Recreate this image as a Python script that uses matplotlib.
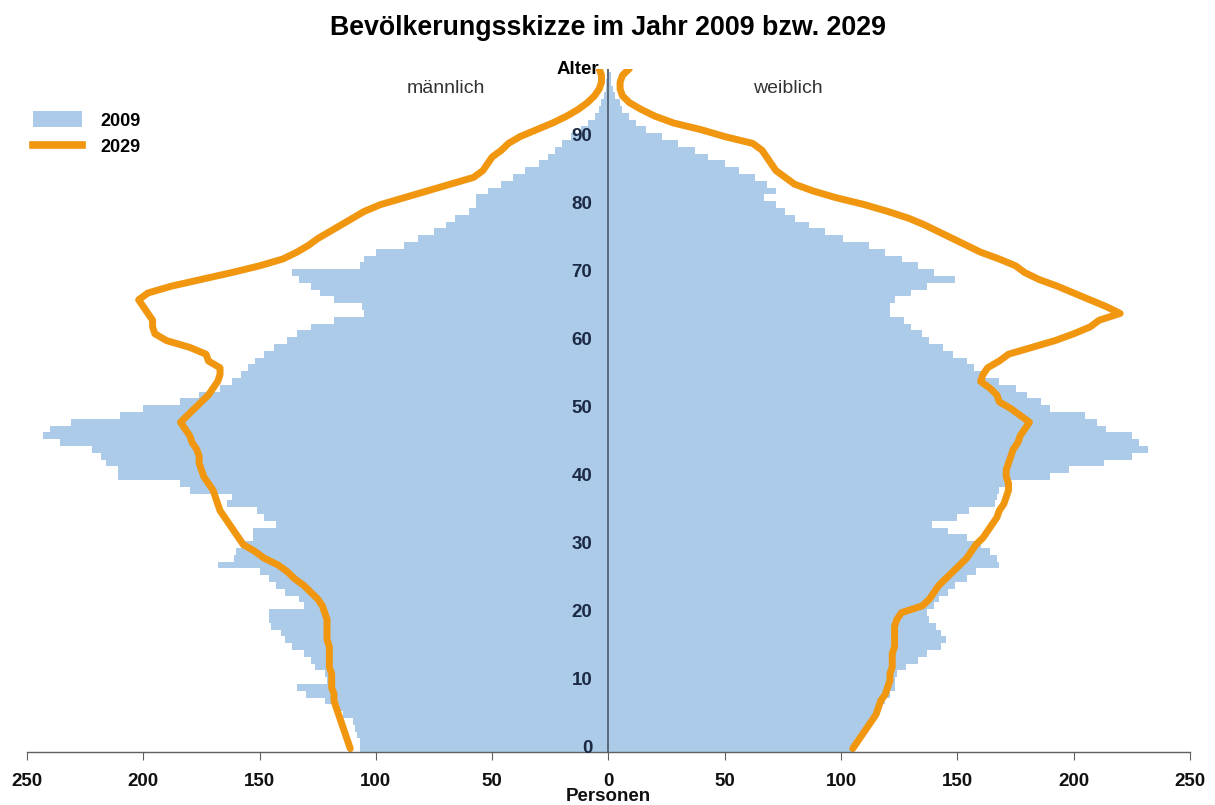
import numpy as np
import matplotlib
matplotlib.use("Agg")
import matplotlib.pyplot as plt
from matplotlib.patches import Patch
from matplotlib.lines import Line2D

plt.rcParams['font.family'] = ['Liberation Sans', 'DejaVu Sans']

# ages 0..99 for the 2009 bars, 0..100 for the 2029 lines
ages_2009 = list(range(100))
ages_2029 = list(range(101))

male_2009 = [107, 107, 108, 109, 110, 114, 116, 122, 130, 134,
             121, 122, 126, 128, 131, 136, 139, 141, 145, 146,
             146, 131, 133, 139, 143, 146, 150, 168, 161, 160,
             158, 153, 153, 143, 148, 151, 164, 162, 180, 184,
             211, 211, 216, 218, 222, 236, 243, 240, 231, 210,
             200, 184, 176, 167, 162, 158, 155, 152, 148, 144,
             138, 134, 128, 118, 105, 106, 118, 124, 128, 133,
             136, 107, 105, 100, 88, 82, 75, 70, 66, 60,
             57, 57, 52, 46, 41, 36, 30, 26, 23, 20,
             16, 12, 9, 6, 4, 3, 2, 1, 1, 0]

female_2009 = [106, 106, 108, 110, 112, 114, 117, 119, 121, 123,
               123, 124, 128, 133, 137, 143, 145, 143, 141, 138,
               137, 140, 142, 146, 149, 154, 158, 168, 167, 164,
               160, 154, 146, 139, 150, 155, 166, 167, 168, 173,
               190, 198, 213, 225, 232, 228, 225, 214, 210, 205,
               190, 186, 180, 175, 168, 162, 157, 154, 148, 144,
               138, 135, 130, 127, 121, 121, 123, 130, 137, 149,
               140, 133, 126, 119, 112, 101, 93, 86, 80, 76,
               72, 67, 72, 68, 63, 56, 50, 43, 37, 30,
               23, 16, 12, 9, 6, 5, 3, 2, 1, 1]

male_2029 = [111, 112, 113, 114, 115, 116, 117, 118, 118, 119,
             119, 119, 120, 120, 120, 120, 121, 121, 121, 121,
             122, 123, 125, 128, 131, 135, 138, 142, 148, 152,
             157, 159, 161, 163, 165, 167, 168, 169, 170, 172,
             174, 175, 176, 176, 177, 179, 180, 182, 184, 181,
             178, 175, 172, 170, 168, 167, 167, 172, 173, 180,
             190, 195, 196, 196, 198, 200, 202, 198, 188, 175,
             162, 150, 140, 134, 129, 125, 120, 115, 110, 105,
             98, 88, 78, 68, 58, 54, 52, 50, 46, 43,
             38, 31, 24, 18, 13, 9, 6, 4, 3, 3, 4]

female_2029 = [105, 107, 109, 111, 113, 115, 116, 117, 119, 120,
               121, 121, 122, 122, 122, 123, 123, 123, 123, 124,
               126, 135, 138, 140, 142, 145, 148, 151, 154, 156,
               158, 161, 163, 165, 167, 168, 170, 171, 172, 172,
               171, 171, 172, 173, 174, 176, 177, 179, 181, 177,
               173, 168, 167, 164, 160, 161, 163, 168, 172, 182,
               192, 200, 207, 211, 220, 214, 207, 200, 193, 185,
               179, 175, 168, 160, 154, 148, 142, 136, 129, 120,
               110, 98, 88, 80, 76, 72, 70, 68, 66, 62,
               50, 40, 28, 20, 14, 9, 6, 5, 5, 6, 9]

x_ticks = [-250, -200, -150, -100, -50, 0, 50, 100, 150, 200, 250]
age_ticks = [0, 10, 20, 30, 40, 50, 60, 70, 80, 90]

blue = '#abcbe9'
orange = '#f0960f'
dark = '#1c2a44'

fig = plt.figure(figsize=(12.15, 8.05), dpi=100)
ax = fig.add_axes([0.0222, 0.0658, 0.9572, 0.849])

ax.barh(ages_2009, -np.array(male_2009), height=1.0, color=blue, linewidth=0)
ax.barh(ages_2009, female_2009, height=1.0, color=blue, linewidth=0)

ax.plot(-np.array(male_2029), ages_2029, color=orange, lw=5, solid_capstyle='round',
        solid_joinstyle='round')
ax.plot(female_2029, ages_2029, color=orange, lw=5, solid_capstyle='round',
        solid_joinstyle='round')

ax.axvline(0, color='#5b6878', lw=1.4, zorder=4)

ax.set_xlim(-250, 250)
ax.set_ylim(-0.5, 100)

for s in ['top', 'left', 'right']:
    ax.spines[s].set_visible(False)
ax.spines['bottom'].set_color('#606060')
ax.spines['bottom'].set_linewidth(1.0)

ax.set_xticks(x_ticks)
ax.set_xticklabels([str(abs(v)) for v in x_ticks], fontsize=13.5, fontweight='bold', color='#111111')
ax.tick_params(axis='x', direction='out', length=6, color='#606060', pad=9)
ax.set_yticks([])

for a in age_ticks:
    ax.text(-7, a, str(a), ha='right', va='center', fontsize=13.5,
            fontweight='bold', color=dark)

ax.text(-4, 99.9, 'Alter', ha='right', va='center', fontsize=13.5,
        fontweight='bold', color='black', clip_on=False)
ax.text(-70, 97, 'männlich', ha='center', va='center', fontsize=14, color='#333333')
ax.text(77, 97, 'weiblich', ha='center', va='center', fontsize=14, color='#333333')

fig.text(0.5, 0.965, 'Bevölkerungsskizze im Jahr 2009 bzw. 2029', ha='center',
         va='center', fontsize=19.3, fontweight='bold', color='black')
fig.text(0.501, 0.0, 'Personen', ha='center', va='bottom', fontsize=13.5,
         fontweight='bold', color='#111111')

handles = [Patch(facecolor=blue, edgecolor='none'),
           Line2D([0], [0], color=orange, lw=5.5)]
fig.legend(handles, ['2009', '2029'], loc='upper left', bbox_to_anchor=(0.014, 0.882),
           frameon=False, prop={'weight': 'bold', 'size': 13},
           handlelength=2.7, handleheight=1.0, labelspacing=0.45, handletextpad=1.0)

fig.savefig('out.png', dpi=100)
